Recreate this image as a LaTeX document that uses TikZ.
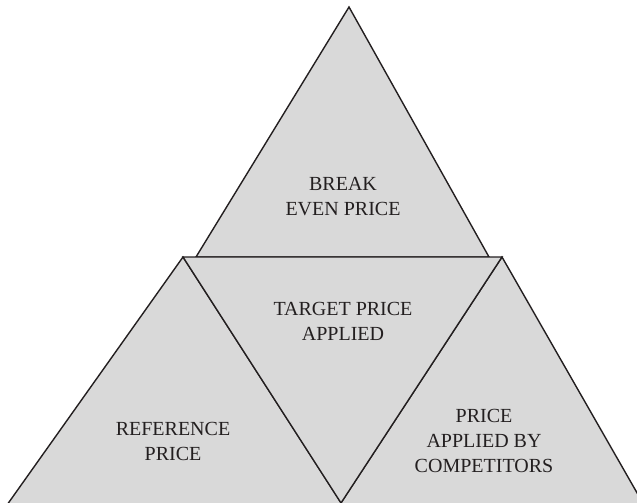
\documentclass[tikz,border=0pt]{standalone}
\usepackage{fontspec}
\setmainfont{Liberation Serif}
\definecolor{tri}{HTML}{D9D9D9}
\definecolor{edge}{HTML}{231F20}
\tikzset{
  tripart/.style={fill=tri, draw=edge, line width=1.4pt, line join=miter},
  lbl/.style={align=center, font=\fontsize{20}{25}\selectfont, text=edge, inner sep=0pt}
}
\begin{document}
\begin{tikzpicture}[x=1pt,y=-1pt]
\useasboundingbox (0,0) rectangle (637,503);
\clip (0,0) rectangle (637,503);
% vertices
\coordinate (topA) at (349,7);
\coordinate (topL) at (196,257);
\coordinate (topR) at (489,257);
\coordinate (blA) at (183,257);
\coordinate (blL) at (2,512);
\coordinate (midB) at (341,503);
\coordinate (brA) at (502,257);
\coordinate (brR) at (648,512);
\coordinate (midBL) at (335,512);
\coordinate (midBR) at (347,512);
% shapes
\draw[tripart] (topA) -- (topL) -- (topR) -- cycle;
\draw[tripart] (blA) -- (blL) -- (midBR) -- cycle;
\draw[tripart] (brA) -- (midBL) -- (brR) -- cycle;
\draw[tripart] (blA) -- (brA) -- (midB) -- cycle;
% labels
\node[lbl] (breakeven) at (343,197) {BREAK\\EVEN PRICE};
\node[lbl] (target) at (343,321) {TARGET PRICE\\APPLIED};
\node[lbl] (reference) at (173,441) {REFERENCE\\PRICE};
\node[lbl] (competitors) at (484,441) {PRICE\\APPLIED BY\\COMPETITORS};
\end{tikzpicture}
\end{document}
